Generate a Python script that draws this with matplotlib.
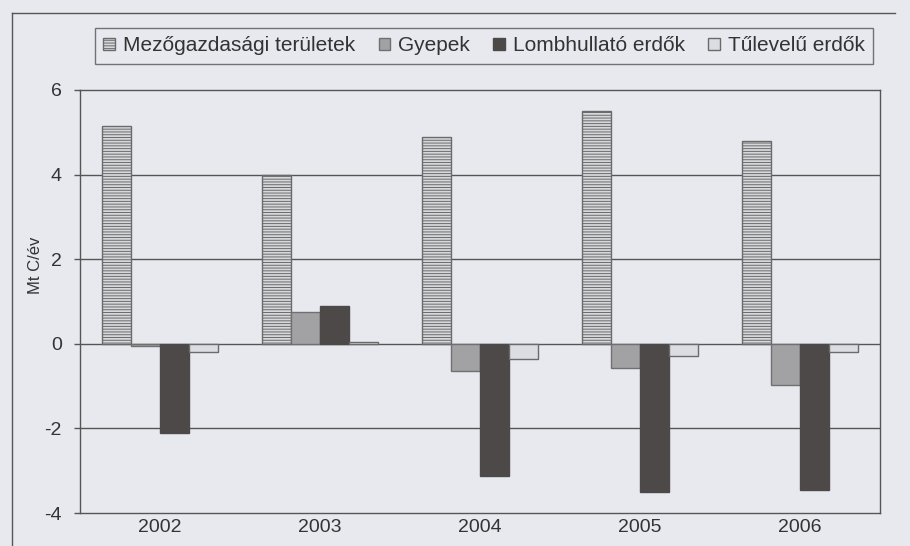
import matplotlib
matplotlib.use("Agg")
import matplotlib.pyplot as plt
import numpy as np
from matplotlib.lines import Line2D

years = ["2002", "2003", "2004", "2005", "2006"]
series_names = ["Mezőgazdasági területek", "Gyepek", "Lombhullató erdők", "Tűlevelű erdők"]
mezo = [5.15, 4.0, 4.88, 5.5, 4.8]
gyepek = [-0.05, 0.75, -0.65, -0.57, -0.97]
lomb = [-2.1, 0.9, -3.13, -3.5, -3.45]
tulevelu = [-0.2, 0.05, -0.35, -0.3, -0.2]
yticks = [-4, -2, 0, 2, 4, 6]
ylabel = "Mt C/év"

plt.rcParams['font.family'] = ['Liberation Sans', 'DejaVu Sans']
plt.rcParams['hatch.linewidth'] = 0.7

bg = "#e7e9ef"
txt = "#333333"
line_c = "#555555"

W, H = 910, 546
fig = plt.figure(figsize=(W / 100, H / 100), dpi=100, facecolor=bg)

def fx(px):
    return px / W

def fy(py):
    return 1 - py / H

ax = fig.add_axes([fx(80), fy(513), fx(880) - fx(80), fy(90) - fy(513)])
ax.set_facecolor(bg)

x = np.arange(len(years))
bw = 1 / 5.5
styles = [
    dict(facecolor="#d6d8dc", edgecolor="#6a6a6a", hatch="------"),
    dict(facecolor="#a2a2a4", edgecolor="#707070"),
    dict(facecolor="#4e4949", edgecolor="#4e4949"),
    dict(facecolor="#dcdde2", edgecolor="#6a6a6a"),
]
data = [mezo, gyepek, lomb, tulevelu]
handles = []
for i, (vals, st, name) in enumerate(zip(data, styles, series_names)):
    off = (i - 1.5) * bw
    bars = ax.bar(x + off, vals, width=bw, linewidth=1.0, zorder=3, label=name, **st)
    handles.append(bars)

ax.set_xlim(-0.5, len(years) - 0.5)
ax.set_ylim(-4, 6)
ax.set_yticks(yticks)
ax.set_yticklabels([str(t) for t in yticks])
ax.set_xticks(x)
ax.set_xticklabels(years)
ax.tick_params(axis='y', length=4, width=1, color=line_c, labelsize=14, labelcolor=txt, pad=9)
ax.tick_params(axis='x', length=0, labelsize=14, labelcolor=txt, pad=4)
for s in ax.spines.values():
    s.set_color(line_c)
    s.set_linewidth(1.0)
for t in [-2, 0, 2, 4]:
    ax.axhline(t, color=line_c, linewidth=1.0, zorder=1)

fig.text(fx(36), fy(265), ylabel, rotation=90, ha='center', va='center', fontsize=12, color=txt)

leg = fig.legend(handles=handles, labels=series_names, loc='upper left',
                 bbox_to_anchor=(fx(95), fy(28)),
                 ncol=4, frameon=True, fancybox=False, fontsize=15,
                 handlelength=0.54, handleheight=0.45, handletextpad=0.4,
                 columnspacing=1.12, borderpad=0.4, borderaxespad=0)
leg.get_frame().set_edgecolor(line_c)
leg.get_frame().set_facecolor(bg)
leg.get_frame().set_linewidth(1.0)
for t in leg.get_texts():
    t.set_color(txt)

# outer chart border
fig.add_artist(Line2D([fx(12), fx(12)], [fy(13), fy(546)], color=line_c, linewidth=1.0))
fig.add_artist(Line2D([fx(12), fx(895)], [fy(13), fy(13)], color=line_c, linewidth=1.0))

fig.savefig("out.png", dpi=100, facecolor=bg)
